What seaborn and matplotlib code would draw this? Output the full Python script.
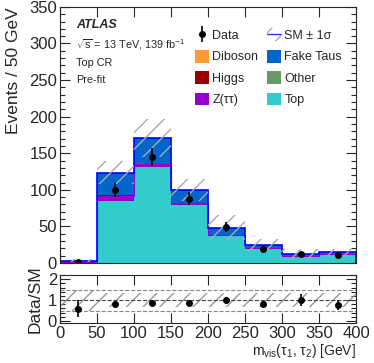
import numpy as np
import pandas as pd
import seaborn as sns
import matplotlib
matplotlib.use("Agg")
import matplotlib.pyplot as plt
from matplotlib.patches import Patch
from matplotlib.lines import Line2D
from matplotlib.ticker import MultipleLocator

# bins of m_vis(tau1, tau2)
edges = [0, 50, 100, 150, 200, 250, 300, 350, 400]

# stacked backgrounds (pre-fit)
top = [0.5, 85, 131, 79, 37, 20, 9.5, 11.5]
ztt = [0.2, 7, 4, 2.5, 1.5, 0.8, 0.5, 0.5]
other = [0.05, 0.2, 0.2, 0.1, 0.1, 0.05, 0.05, 0.05]
higgs = [0.0, 0.1, 0.1, 0.1, 0.05, 0.05, 0.0, 0.0]
diboson = [0.05, 0.3, 0.3, 0.2, 0.2, 0.1, 0.1, 0.1]
fake = [2.6, 31, 35, 18, 9.5, 3, 1.8, 2.4]
sm_unc = [1.5, 16, 26, 15, 17, 9, 7, 5]

data = [2, 100, 145, 88, 49, 19, 12, 11]
ratio_unc = [0.5, 0.35, 0.35, 0.35, 0.35, 0.35, 0.35, 0.35]

procs = {"Top": top, "Z(ττ)": ztt, "Other": other, "Higgs": higgs,
         "Diboson": diboson, "Fake Taus": fake}
colors = {"Top": "#33cccc", "Z(ττ)": "#9900cc", "Other": "#669966",
          "Higgs": "#990000", "Diboson": "#ff9933", "Fake Taus": "#0066cc"}

sns.set_style("ticks")
plt.rcParams['font.family'] = ['Liberation Sans', 'DejaVu Sans']
plt.rcParams['mathtext.fontset'] = 'custom'
plt.rcParams['mathtext.rm'] = 'Liberation Sans'
plt.rcParams['mathtext.it'] = 'Liberation Sans:italic'
plt.rcParams['hatch.linewidth'] = 1.0

centers = [(edges[i] + edges[i + 1]) / 2 for i in range(len(edges) - 1)]
rows = []
for p, vals in procs.items():
    for c, v in zip(centers, vals):
        rows.append({"mvis": c, "events": v, "process": p})
df = pd.DataFrame(rows)

total = np.sum([np.array(v) for v in procs.values()], axis=0)
unc = np.array(sm_unc)
dat = np.array(data, dtype=float)

fig = plt.figure(figsize=(3.74, 3.63), dpi=100)
ax = fig.add_axes([0.160, 0.2755, 0.792, 0.7055])
rax = fig.add_axes([0.160, 0.110, 0.792, 0.1325])

# stack: first hue level ends on top
hue_order = ["Fake Taus", "Diboson", "Higgs", "Other", "Z(ττ)", "Top"]
sns.histplot(data=df, x="mvis", weights="events", hue="process", hue_order=hue_order,
             multiple="stack", bins=edges, element="step", palette=colors,
             alpha=1, linewidth=0, legend=False, ax=ax)
# thin edge at the top of Z band
ax.stairs(np.array(top) + np.array(ztt), edges, color="#9900cc", lw=0.8, baseline=None)
ax.stairs(total, edges, color="#0000ff", lw=1.2, baseline=0)
ax.stairs(total + unc, edges, baseline=total - unc, fill=True, hatch="//",
          facecolor="none", edgecolor="#aaaaaa", lw=0)
ax.errorbar(centers, dat, yerr=np.sqrt(dat), fmt="o", color="black",
            ms=4, elinewidth=1.2, capsize=0)

ax.set_xlim(0, 400)
ax.set_ylim(0, 350)
ax.set_xlabel("")
ax.set_ylabel("Events / 50 GeV", fontsize=12.5, loc="top", labelpad=6)
ax.set_xticklabels([])

# ratio
ratio = dat / total
rerr = np.sqrt(dat) / total
rax.stairs(1 + np.array(ratio_unc), edges, baseline=1 - np.array(ratio_unc), fill=True,
           hatch="//", facecolor="none", edgecolor="#999999", lw=0)
for yl in [0.5, 1.0, 1.5]:
    rax.axhline(yl, color="#444444" if yl == 1.0 else "#888888", ls="--", lw=0.8)
rax.errorbar(centers, ratio, yerr=rerr, fmt="o", color="black",
             ms=4, elinewidth=1.2, capsize=0)
rax.set_xlim(0, 400)
rax.set_ylim(-0.1, 2.2)
rax.set_ylabel("Data/SM", fontsize=12.5)
rax.set_xlabel(r"m$_{\mathrm{vis}}$(τ$_{1}$, τ$_{2}$) [GeV]", fontsize=10, loc="right",
               labelpad=1)
fig.align_ylabels([ax, rax])

for a in (ax, rax):
    a.tick_params(which="both", direction="in", top=True, right=True, labelsize=12,
                  pad=2)
    a.tick_params(which="major", length=7, width=0.8)
    a.tick_params(which="minor", length=3.5, width=0.8)
    a.xaxis.set_major_locator(MultipleLocator(50))
    for s in a.spines.values():
        s.set_linewidth(0.8)
ax.yaxis.set_major_locator(MultipleLocator(50))
ax.yaxis.set_minor_locator(MultipleLocator(10))
rax.yaxis.set_major_locator(MultipleLocator(1))
rax.yaxis.set_minor_locator(MultipleLocator(0.2))

# labels
ax.text(0.054, 0.93, "ATLAS", transform=ax.transAxes, fontsize=9, fontweight="bold",
        fontstyle="italic", va="center")
ax.text(0.054, 0.852, r"$\sqrt{\mathrm{s}}$ = 13 TeV, 139 fb$^{-1}$", transform=ax.transAxes,
        fontsize=7.8, va="center")
ax.text(0.054, 0.781, "Top CR", transform=ax.transAxes, fontsize=7.8, va="center")
ax.text(0.054, 0.715, "Pre-fit", transform=ax.transAxes, fontsize=7.8, va="center")

handles = [
    (Line2D([], [], color="black", marker="|", ms=11, mew=1.2, ls="none"),
     Line2D([], [], color="black", marker="o", ms=4, ls="none")),
    Patch(facecolor=colors["Diboson"], edgecolor="none"),
    Patch(facecolor=colors["Higgs"], edgecolor="none"),
    Patch(facecolor=colors["Z(ττ)"], edgecolor="none"),
    (Patch(facecolor="none", edgecolor="#aaaaaa", hatch="//", lw=0),
     Line2D([], [], color="#3333ff", lw=1.0)),
    Patch(facecolor=colors["Fake Taus"], edgecolor="none"),
    Patch(facecolor=colors["Other"], edgecolor="none"),
    Patch(facecolor=colors["Top"], edgecolor="none"),
]
labels = ["Data", "Diboson", "Higgs", "Z(ττ)", "SM ± 1σ", "Fake Taus", "Other", "Top"]
ax.legend(handles, labels, ncol=2, loc="upper left", bbox_to_anchor=(0.42, 0.96),
          frameon=False, fontsize=9, handlelength=1.12, handleheight=1.2,
          handletextpad=0.24, columnspacing=0.7, labelspacing=0.62)

fig.savefig("out.png", dpi=100)
